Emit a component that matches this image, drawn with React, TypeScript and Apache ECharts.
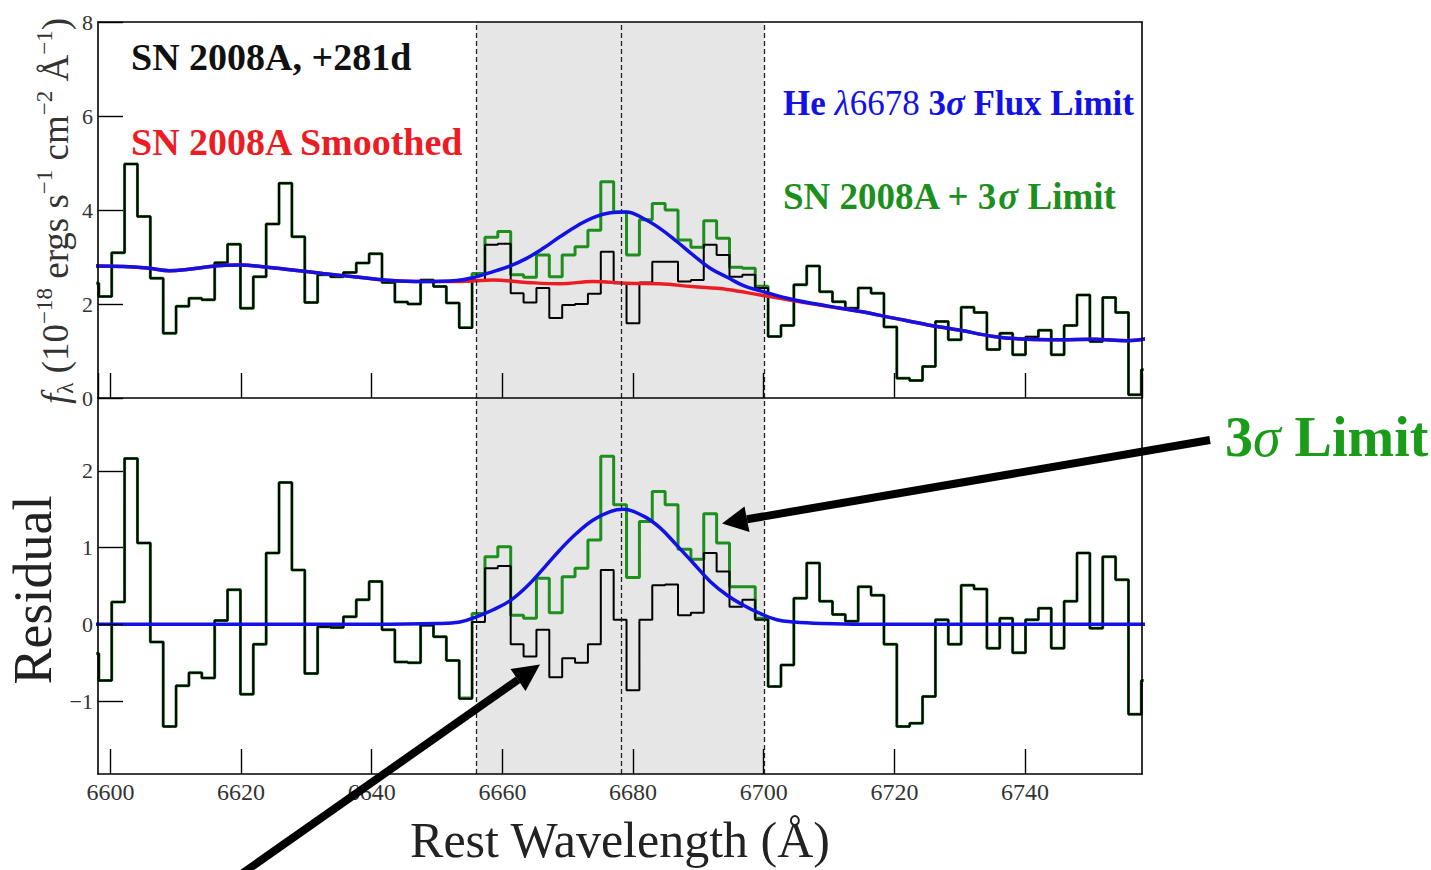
import React, { useEffect, useRef } from "react";
import * as echarts from "echarts";

// Spectral sampling grid (bin edges)
const binStart = 6596.26;
const binWidth = 1.97;

// Top panel: observed flux (black) per bin
const fluxObs = [
  2.44, 2.16, 3.09, 4.98, 3.86, 2.55, 1.38, 1.95, 2.12, 2.09,
  2.88, 3.27, 1.91, 2.58, 3.70, 4.57, 3.43, 2.03, 2.62, 2.58,
  2.67, 2.87, 3.07, 2.46, 2.04, 2.00, 2.51, 2.37, 2.02, 1.49,
  2.51, 3.26, 3.28, 2.23, 2.03, 2.34, 1.70, 1.98, 2.00, 2.22,
  3.11, 2.44, 1.59, 2.46, 2.90, 2.90, 2.48, 2.51, 3.26, 3.04,
  2.58, 2.62, 2.34, 1.31, 1.54, 2.41, 2.81, 2.26, 2.05, 1.91,
  2.34, 2.23, 1.51, 0.42, 0.37, 0.67, 1.63, 1.24, 1.93, 1.82,
  1.03, 1.38, 0.92, 1.30, 1.44, 0.92, 1.54, 2.19, 1.20, 2.14,
  1.82, 0.07, 0.60,
];
// Top panel: observed + 3 sigma limit (green)
const fluxLimit = [
  2.44, 2.16, 3.09, 4.98, 3.86, 2.55, 1.38, 1.95, 2.12, 2.09,
  2.88, 3.27, 1.91, 2.58, 3.70, 4.57, 3.43, 2.03, 2.62, 2.58,
  2.67, 2.87, 3.07, 2.46, 2.04, 2.00, 2.51, 2.37, 2.02, 1.50,
  2.65, 3.42, 3.54, 2.62, 2.57, 3.04, 2.58, 3.04, 3.22, 3.57,
  4.60, 3.96, 3.04, 3.79, 4.14, 4.00, 3.36, 3.21, 3.77, 3.40,
  2.78, 2.76, 2.38, 1.31, 1.54, 2.41, 2.81, 2.26, 2.05, 1.91,
  2.34, 2.23, 1.51, 0.42, 0.37, 0.67, 1.63, 1.24, 1.93, 1.82,
  1.03, 1.38, 0.92, 1.30, 1.44, 0.92, 1.54, 2.19, 1.20, 2.14,
  1.82, 0.07, 0.60,
];
// Bottom panel: residual (black)
const residObs = [
  -0.38, -0.73, 0.29, 2.16, 1.06, -0.23, -1.33, -0.80, -0.63, -0.70,
  0.05, 0.45, -0.91, -0.26, 0.93, 1.85, 0.71, -0.64, -0.03, -0.04,
  0.10, 0.32, 0.56, -0.07, -0.49, -0.50, -0.01, -0.16, -0.47, -0.97,
  0.03, 0.73, 0.76, -0.26, -0.42, -0.07, -0.69, -0.44, -0.50, -0.26,
  0.71, 0.06, -0.86, 0.06, 0.51, 0.52, 0.12, 0.15, 0.93, 0.69,
  0.23, 0.32, 0.06, -0.81, -0.53, 0.34, 0.80, 0.30, 0.13, 0.04,
  0.49, 0.38, -0.26, -1.33, -1.29, -0.94, 0.06, -0.26, 0.51, 0.46,
  -0.31, 0.08, -0.37, 0.06, 0.21, -0.31, 0.30, 0.93, -0.05, 0.88,
  0.58, -1.17, -0.73,
];
// Bottom panel: residual + 3 sigma limit (green)
const residLimit = [
  -0.38, -0.73, 0.29, 2.16, 1.06, -0.23, -1.33, -0.80, -0.63, -0.70,
  0.05, 0.45, -0.91, -0.26, 0.93, 1.85, 0.71, -0.64, -0.03, -0.04,
  0.10, 0.32, 0.56, -0.07, -0.49, -0.50, -0.01, -0.16, -0.47, -0.96,
  0.14, 0.88, 1.01, 0.12, 0.08, 0.60, 0.15, 0.62, 0.73, 1.10,
  2.19, 1.56, 0.61, 1.34, 1.73, 1.56, 0.98, 0.85, 1.44, 1.06,
  0.49, 0.49, 0.08, -0.81, -0.53, 0.34, 0.80, 0.30, 0.13, 0.04,
  0.49, 0.38, -0.26, -1.33, -1.29, -0.94, 0.06, -0.26, 0.51, 0.46,
  -0.31, 0.08, -0.37, 0.06, 0.21, -0.31, 0.30, 0.93, -0.05, 0.88,
  0.58, -1.17, -0.73,
];

// Smoothed spectrum (red)
const smoothWave = [6597, 6602, 6606, 6609, 6612, 6617, 6620, 6623, 6627.5, 6632.5, 6638, 6643, 6648, 6653.5, 6658.6, 6663.7, 6668.8, 6673.9, 6679, 6684, 6689, 6694.4, 6699.5, 6704.6, 6709.7, 6714.8, 6719.9, 6725, 6730.1, 6735.2, 6740.3, 6745.4, 6750.5, 6755.6, 6759];
const smoothFlux = [2.81, 2.80, 2.76, 2.71, 2.74, 2.82, 2.83, 2.80, 2.73, 2.65, 2.57, 2.50, 2.48, 2.48, 2.51, 2.46, 2.43, 2.48, 2.44, 2.43, 2.37, 2.31, 2.19, 2.07, 1.95, 1.84, 1.70, 1.56, 1.44, 1.31, 1.25, 1.24, 1.25, 1.22, 1.27];

// Smoothed + He 6678 3 sigma flux limit (blue, top)
const modelWave = [6597, 6602, 6606, 6609, 6612, 6617, 6620, 6623, 6627.5, 6632.5, 6638, 6643, 6648, 6653, 6656, 6658.6, 6661.2, 6663.7, 6666.3, 6668.8, 6671.4, 6673.9, 6676.5, 6679, 6681.6, 6684.1, 6686.7, 6689.2, 6691.8, 6694.4, 6696.9, 6699.5, 6704.6, 6709.7, 6714.8, 6719.9, 6725, 6730.1, 6735.2, 6740.3, 6745.4, 6750.5, 6755.6, 6759];
const modelFlux = [2.81, 2.80, 2.76, 2.71, 2.74, 2.82, 2.83, 2.80, 2.73, 2.65, 2.57, 2.50, 2.48, 2.50, 2.58, 2.69, 2.81, 2.97, 3.19, 3.43, 3.66, 3.84, 3.94, 3.96, 3.82, 3.61, 3.33, 3.04, 2.76, 2.57, 2.39, 2.28, 2.09, 1.96, 1.84, 1.70, 1.56, 1.44, 1.31, 1.25, 1.24, 1.25, 1.22, 1.27];

// 3 sigma limit line profile (blue, bottom)
const gaussWave = [6597, 6640, 6650, 6653.5, 6656.1, 6658.6, 6661.2, 6663.7, 6666.3, 6668.8, 6671.4, 6673.9, 6676.5, 6678.5, 6681.6, 6684.1, 6686.7, 6689.2, 6691.8, 6694.4, 6696.9, 6699.5, 6702, 6704.6, 6709, 6715, 6759];
const gaussResid = [0, 0, 0.01, 0.03, 0.10, 0.19, 0.31, 0.49, 0.73, 0.97, 1.19, 1.36, 1.47, 1.50, 1.41, 1.26, 1.03, 0.80, 0.56, 0.38, 0.25, 0.14, 0.06, 0.03, 0.01, 0, 0];

// Region markers
const bandRange = [6656, 6700.1];
const dashedLines = [6656, 6678.15, 6700.1];

const FONT = "Liberation Serif";
const BLACK = "#000";
const GREEN = "#1d8f1d";
const BLUE = "#1212e6";
const RED = "#ec1c24";

function steps(vals: number[]) {
  const pts = vals.map((v, i) => [binStart + i * binWidth, v]);
  pts.push([binStart + vals.length * binWidth, vals[vals.length - 1]]);
  return pts;
}
function pairs(xs: number[], ys: number[]) {
  return xs.map((x, i) => [x, ys[i]]);
}

export default function App() {
  const ref = useRef<HTMLDivElement>(null);

  useEffect(() => {
    if (!ref.current) return;
    const chart = echarts.init(ref.current, null, { renderer: "svg" });

    const xMin = 6598.1;
    const xMax = 6757.9;
    const frameLine = { show: true, onZero: false, lineStyle: { color: "#000", width: 1.6 } };
    const tick = { show: true, inside: true, length: 25, lineStyle: { color: "#000", width: 1.4 } };

    const xAxisBase = (gridIndex: number, labels: boolean) => ({
      type: "value",
      gridIndex,
      min: xMin,
      max: xMax,
      splitNumber: 8,
      minInterval: 20,
      maxInterval: 20,
      position: "bottom",
      z: 10,
      axisLine: frameLine,
      axisTick: tick,
      splitLine: { show: false },
      axisLabel: {
        show: labels,
        showMinLabel: false,
        showMaxLabel: false,
        margin: 6,
        color: "#333",
        fontFamily: FONT,
        fontSize: 24,
        formatter: (v: number) => (Math.abs(v % 20) < 1e-6 ? String(v) : ""),
      },
    });
    const frameAxis = (gridIndex: number, position: string, min: number, max: number) => ({
      type: "value",
      gridIndex,
      min,
      max,
      position,
      z: 10,
      axisLine: frameLine,
      axisTick: { show: false },
      axisLabel: { show: false },
      splitLine: { show: false },
    });

    const markers = {
      markArea: {
        silent: true,
        itemStyle: { color: "#e6e6e6" },
        data: [[{ xAxis: bandRange[0] }, { xAxis: bandRange[1] }]],
      },
      markLine: {
        silent: true,
        symbol: ["none", "none"],
        label: { show: false },
        lineStyle: { color: "#222", width: 1.3, type: [5, 3] },
        data: dashedLines.map((x) => ({ xAxis: x })),
      },
    };

    const stepSeries = (data: number[], color: string, width: number, xi: number, yi: number, z: number, extra = {}) => ({
      type: "line",
      xAxisIndex: xi,
      yAxisIndex: yi,
      step: "end",
      symbol: "none",
      z,
      lineStyle: { color, width },
      data: steps(data),
      ...extra,
    });
    const curve = (xs: number[], ys: number[], color: string, xi: number, yi: number, z: number) => ({
      type: "line",
      xAxisIndex: xi,
      yAxisIndex: yi,
      smooth: 0.4,
      symbol: "none",
      z,
      lineStyle: { color, width: 3.5 },
      data: pairs(xs, ys),
    });

    const boldText = (text: string, x: number, y: number, color: string, size: number, rich?: any) => ({
      type: "text",
      x,
      y,
      z: 100,
      style: {
        text,
        fill: color,
        fontFamily: FONT,
        fontWeight: "bold",
        fontSize: size,
        align: "left",
        verticalAlign: "middle",
        rich,
      },
    });

    const option = {
      animation: false,
      backgroundColor: "#fff",
      grid: [
        { left: 98, top: 22, width: 1044, height: 376 },
        { left: 98, top: 398, width: 1044, height: 376 },
      ],
      xAxis: [
        xAxisBase(0, false),
        xAxisBase(1, true),
        frameAxis(0, "top", xMin, xMax),
      ],
      yAxis: [
        {
          type: "value",
          gridIndex: 0,
          min: 0,
          max: 8,
          interval: 2,
          position: "left",
          z: 10,
          axisLine: frameLine,
          axisTick: tick,
          splitLine: { show: false },
          axisLabel: { margin: 5, color: "#333", fontFamily: FONT, fontSize: 22 },
        },
        {
          type: "value",
          gridIndex: 1,
          min: -1.95,
          max: 2.95,
          splitNumber: 5,
          minInterval: 1,
          maxInterval: 1,
          position: "left",
          z: 10,
          axisLine: frameLine,
          axisTick: tick,
          splitLine: { show: false },
          axisLabel: {
            showMinLabel: false,
            showMaxLabel: false,
            margin: 5,
            color: "#333",
            fontFamily: FONT,
            fontSize: 22,
            formatter: (v: number) =>
              Math.abs(v - Math.round(v)) < 1e-6 ? (v < 0 ? "\u2212" + Math.abs(v) : String(v)) : "",
          },
        },
        frameAxis(0, "right", 0, 8),
        frameAxis(1, "right", -1.95, 2.95),
      ],
      series: [
        stepSeries(fluxLimit, GREEN, 3, 0, 0, 2, markers),
        stepSeries(fluxObs, BLACK, 2, 0, 0, 3),
        curve(smoothWave, smoothFlux, RED, 0, 0, 4),
        curve(modelWave, modelFlux, BLUE, 0, 0, 5),
        stepSeries(residLimit, GREEN, 3, 1, 1, 2, markers),
        stepSeries(residObs, BLACK, 2, 1, 1, 3),
        curve(gaussWave, gaussResid, BLUE, 1, 1, 5),
      ],
      graphic: [
        boldText("SN 2008A, +281d", 131, 57, "#111", 38),
        boldText("SN 2008A Smoothed", 131, 142, RED, 38),
        boldText("{b|He }{l|\u03bb}{r|6678 }{b|3}{s|\u03c3}{b| Flux Limit}", 783, 103, BLUE, 35, {
          b: { fontFamily: FONT, fontWeight: "bold", fontSize: 35, fill: BLUE },
          l: { fontFamily: FONT, fontStyle: "italic", fontSize: 35, fill: BLUE },
          r: { fontFamily: FONT, fontSize: 35, fill: BLUE },
          s: { fontFamily: FONT, fontWeight: "bold", fontStyle: "italic", fontSize: 35, fill: BLUE },
        }),
        boldText("{b|SN 2008A + 3}{s|\u03c3}{b| Limit}", 783, 196, GREEN, 37, {
          b: { fontFamily: FONT, fontWeight: "bold", fontSize: 37, fill: GREEN },
          s: { fontFamily: FONT, fontWeight: "bold", fontStyle: "italic", fontSize: 37, fill: GREEN },
        }),
        boldText("{b|3}{s|\u03c3}{b| Limit}", 1225, 437, "#1a9c1a", 56, {
          b: { fontFamily: FONT, fontWeight: "bold", fontSize: 56, fill: "#1a9c1a" },
          s: { fontFamily: FONT, fontStyle: "italic", fontSize: 56, fill: "#1a9c1a" },
        }),
        {
          type: "text",
          x: 55,
          y: 211,
          rotation: Math.PI / 2,
          z: 100,
          style: {
            text: "{it|f}{sub|\u03bb}{n| (10}{sup|\u221218}{n| ergs s}{sup|\u22121}{n| cm}{sup|\u22122}{n| \u00c5}{sup|\u22121}{n|)}",
            align: "center",
            verticalAlign: "middle",
            fill: "#333",
            rich: {
              it: { fontFamily: FONT, fontStyle: "italic", fontSize: 37, lineHeight: 44, fill: "#333" },
              n: { fontFamily: FONT, fontSize: 37, lineHeight: 44, fill: "#333" },
              sup: { fontFamily: FONT, fontSize: 23, verticalAlign: "top", fill: "#333" },
              sub: { fontFamily: FONT, fontSize: 23, verticalAlign: "bottom", fill: "#333" },
            },
          },
        },
        {
          type: "text",
          x: 33,
          y: 590,
          rotation: Math.PI / 2,
          z: 100,
          style: {
            text: "Residual",
            align: "center",
            verticalAlign: "middle",
            fill: "#222",
            fontFamily: FONT,
            fontSize: 54,
          },
        },
        {
          type: "text",
          x: 620,
          y: 840,
          z: 100,
          style: {
            text: "Rest Wavelength (\u00c5)",
            align: "center",
            verticalAlign: "middle",
            fill: "#222",
            fontFamily: FONT,
            fontSize: 50,
          },
        },
        // arrow to the 3 sigma limit
        {
          type: "line",
          z: 100,
          shape: { x1: 1210, y1: 440, x2: 747, y2: 519.3 },
          style: { stroke: "#000", lineWidth: 8 },
        },
        {
          type: "polygon",
          z: 100,
          shape: { points: [[722, 523.5], [749.5, 532], [744.5, 506.5]] },
          style: { fill: "#000" },
        },
        // arrow to the observed residual
        {
          type: "line",
          z: 100,
          shape: { x1: 240, y1: 875, x2: 518, y2: 679.8 },
          style: { stroke: "#000", lineWidth: 8 },
        },
        {
          type: "polygon",
          z: 100,
          shape: { points: [[540, 664.5], [525.5, 691], [510.5, 669]] },
          style: { fill: "#000" },
        },
      ],
    };

    chart.setOption(option as any);
    return () => chart.dispose();
  }, []);

  return (
    <div
      ref={ref}
      style={{ position: "absolute", left: 0, top: 0, width: 1431, height: 870, background: "#fff" }}
    />
  );
}
